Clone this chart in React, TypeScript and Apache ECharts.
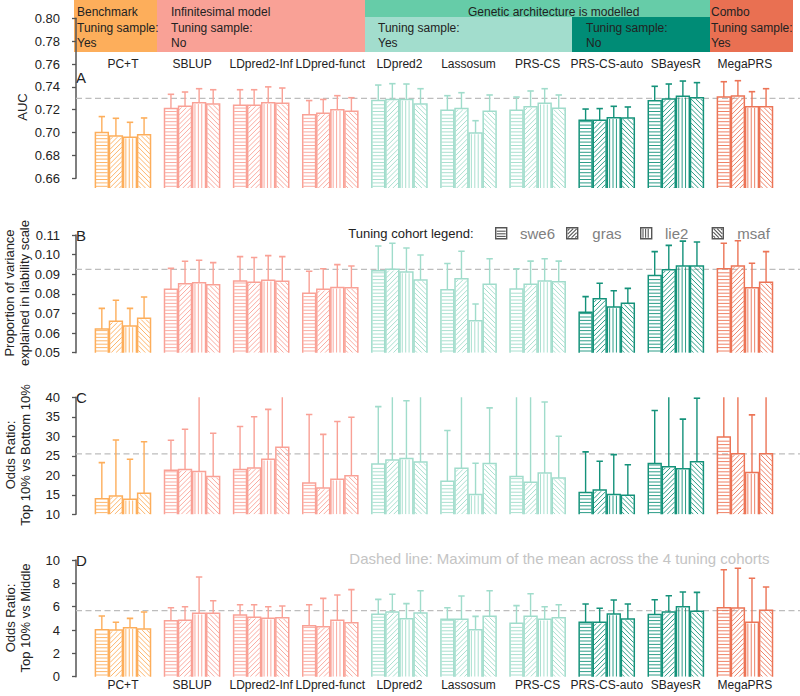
import React, { useEffect, useRef } from 'react';
import * as echarts from 'echarts';

// ---------------- DATA ----------------
const methods = ['PC+T', 'SBLUP', 'LDpred2-Inf', 'LDpred-funct', 'LDpred2', 'Lassosum', 'PRS-CS', 'PRS-CS-auto', 'SBayesR', 'MegaPRS'];
const cohorts = ['swe6', 'gras', 'lie2', 'msaf'];

// rows = methods, cols = cohorts (swe6, gras, lie2, msaf)
const aucMean = [
  [0.700, 0.697, 0.696, 0.698],
  [0.721, 0.723, 0.726, 0.725],
  [0.724, 0.724, 0.726, 0.7256],
  [0.7157, 0.717, 0.720, 0.7186],
  [0.728, 0.729, 0.729, 0.725],
  [0.7195, 0.721, 0.6996, 0.7186],
  [0.7195, 0.7227, 0.7256, 0.7212],
  [0.7107, 0.7107, 0.713, 0.7128],
  [0.7279, 0.7294, 0.7317, 0.7305],
  [0.7311, 0.732, 0.7227, 0.7227],
];
const aucUpper = [
  [0.714, 0.7125, 0.709, 0.7128],
  [0.7335, 0.7355, 0.7384, 0.7375],
  [0.7375, 0.7375, 0.740, 0.739],
  [0.728, 0.729, 0.7323, 0.7305],
  [0.7416, 0.7428, 0.7425, 0.7384],
  [0.7323, 0.7349, 0.7104, 0.7329],
  [0.7311, 0.7364, 0.7384, 0.7329],
  [0.7206, 0.721, 0.723, 0.7224],
  [0.7405, 0.7425, 0.7451, 0.7437],
  [0.7445, 0.7454, 0.7358, 0.7384],
];
const h2Mean = [
  [0.0621, 0.066, 0.0636, 0.0675],
  [0.0823, 0.0852, 0.0857, 0.0847],
  [0.0865, 0.0859, 0.0869, 0.0864],
  [0.0803, 0.0823, 0.0833, 0.0831],
  [0.0918, 0.0925, 0.0911, 0.0871],
  [0.0821, 0.0877, 0.0663, 0.0849],
  [0.0825, 0.0849, 0.0866, 0.0862],
  [0.0706, 0.0775, 0.0733, 0.0752],
  [0.0893, 0.0923, 0.0942, 0.0942],
  [0.0928, 0.0942, 0.0831, 0.0859],
];
const h2Upper = [
  [0.0726, 0.0767, 0.0726, 0.0784],
  [0.093, 0.0966, 0.0971, 0.0959],
  [0.099, 0.0985, 0.0995, 0.099],
  [0.0915, 0.0928, 0.0949, 0.0942],
  [0.1044, 0.1058, 0.1034, 0.0998],
  [0.0955, 0.1017, 0.0748, 0.0979],
  [0.0928, 0.0967, 0.0979, 0.0967],
  [0.0786, 0.0854, 0.0816, 0.0828],
  [0.1015, 0.1047, 0.1069, 0.1064],
  [0.1058, 0.1071, 0.0956, 0.1015],
];
const orBottomMean = [
  [14.0, 14.7, 13.85, 15.4],
  [21.3, 21.5, 21.0, 19.7],
  [21.5, 21.9, 24.1, 27.2],
  [18.0, 16.75, 19.0, 19.9],
  [22.9, 23.9, 24.3, 23.4],
  [18.5, 21.8, 15.1, 23.0],
  [19.7, 18.2, 20.6, 19.3],
  [15.6, 16.2, 15.1, 14.9],
  [23.0, 22.2, 21.7, 23.5],
  [29.8, 25.5, 20.7, 25.5],
];
const orBottomUpper = [
  [23.25, 29.06, 24.1, 28.6],
  [29.0, 31.8, 45, 30.8],
  [32.5, 35.0, 36.9, 45],
  [35.6, 30.5, 33.8, 34.9],
  [37.6, 45, 39.1, 45],
  [31.5, 45, 23.1, 37.3],
  [45, 45, 38.8, 30.0],
  [26.0, 23.6, 25.3, 22.7],
  [36.6, 45, 34.4, 39.8],
  [45, 45, 35.5, 45],
];
const orMiddleMean = [
  [4.03, 4.0, 4.2, 4.09],
  [4.8, 4.83, 5.43, 5.43],
  [5.29, 5.09, 5.0, 5.06],
  [4.37, 4.29, 4.83, 4.63],
  [5.35, 5.54, 4.97, 5.46],
  [4.92, 4.92, 4.03, 5.17],
  [4.57, 5.17, 4.92, 5.06],
  [4.66, 4.66, 5.37, 4.94],
  [5.34, 5.54, 6.0, 5.6],
  [5.91, 5.89, 4.66, 5.69],
];
const orMiddleUpper = [
  [5.2, 4.66, 5.0, 5.54],
  [5.91, 6.0, 8.54, 6.51],
  [6.17, 6.17, 6.0, 6.06],
  [6.17, 6.71, 7.0, 7.46],
  [6.63, 7.06, 6.26, 7.37],
  [5.91, 6.91, 5.17, 7.37],
  [6.09, 7.11, 6.0, 6.17],
  [6.23, 5.86, 6.57, 6.23],
  [6.6, 6.94, 7.26, 7.23],
  [9.17, 9.29, 8.43, 7.69],
];
// dashed reference lines (max of mean across the 4 tuning cohorts)
const dashedValues = [0.73, 0.0925, 25.5, 5.66];

const aucTicks = [0.66, 0.68, 0.70, 0.72, 0.74, 0.76, 0.78, 0.80];
const h2Ticks = [0.05, 0.06, 0.07, 0.08, 0.09, 0.10, 0.11];
const orBottomTicks = [10, 15, 20, 25, 30, 35, 40];
const orMiddleTicks = [0, 2, 4, 6, 8, 10];

// ---------------- STYLE / LAYOUT ----------------
const FONT = "'Liberation Sans', Arial, Helvetica, sans-serif";
const C_ORANGE = '#FDAE5B';
const C_SALMON = '#F9A196';
const C_LGREEN = '#A0DCCB';
const C_DGREEN = '#14927A';
const C_COMBO = '#EC7456';
const methodColors = [C_ORANGE, C_SALMON, C_SALMON, C_SALMON, C_LGREEN, C_LGREEN, C_LGREEN, C_DGREEN, C_DGREEN, C_COMBO];

const GRID_LEFT = 88.4;
const GRID_RIGHT = 20.5;

const panels = [
  { key: 'A', mean: aucMean, upper: aucUpper, ticks: aucTicks, digits: 2, pxMax: 18.3, pxMin: 178.3, barsTop: 72, barsBottom: 188,
    letterY: 77, title: 'AUC', titleX: 22, titleY: 107 },
  { key: 'B', mean: h2Mean, upper: h2Upper, ticks: h2Ticks, digits: 2, pxMax: 235, pxMin: 352.7, barsTop: 235, barsBottom: 352.7,
    letterY: 235, title: 'Proportion of variance\nexplained in liability scale', titleX: 17, titleY: 293 },
  { key: 'C', mean: orBottomMean, upper: orBottomUpper, ticks: orBottomTicks, digits: 0, pxMax: 397.3, pxMin: 514.3, barsTop: 397.3, barsBottom: 514.3,
    letterY: 397, title: 'Odds Ratio:\nTop 10% vs Bottom 10%', titleX: 18, titleY: 455 },
  { key: 'D', mean: orMiddleMean, upper: orMiddleUpper, ticks: orMiddleTicks, digits: 0, pxMax: 560, pxMin: 676.7, barsTop: 560, barsBottom: 676.7,
    letterY: 560, title: 'Odds Ratio:\nTop 10% vs Middle', titleX: 18, titleY: 618 },
];

function valAt(p: any, px: number) {
  const mn = p.ticks[0];
  const mx = p.ticks[p.ticks.length - 1];
  return mx - ((px - p.pxMax) / (p.pxMin - p.pxMax)) * (mx - mn);
}

// hatch segments inside a rect; kind 0 horizontal, 1 '/', 2 vertical, 3 '\'
function hatch(x0: number, y0: number, w: number, h: number, kind: number, step: number) {
  const segs: number[][] = [];
  const x1 = x0 + w;
  const y1 = y0 + h;
  if (w <= 0 || h <= 0) return segs;
  if (kind === 0) {
    for (let y = y1 - step / 2; y > y0; y -= step) segs.push([x0, y, x1, y]);
  } else if (kind === 2) {
    for (let x = x0 + step / 2; x < x1; x += step) segs.push([x, y0, x, y1]);
  } else {
    const d = step * Math.SQRT2;
    if (kind === 1) {
      for (let c = x0 + y0 + d / 2; c < x1 + y1; c += d) {
        const xa = Math.max(x0, c - y1);
        const xb = Math.min(x1, c - y0);
        if (xb > xa) segs.push([xa, c - xa, xb, c - xb]);
      }
    } else {
      for (let c = x0 - y1 + d / 2; c < x1 - y0; c += d) {
        const xa = Math.max(x0, c + y0);
        const xb = Math.min(x1, c + y1);
        if (xb > xa) segs.push([xa, xa - c, xb, xb - c]);
      }
    }
  }
  return segs;
}

function makeRenderItem(cohortIdx: number) {
  return (params: any, api: any) => {
    const mi = api.value(0);
    const top = api.coord([mi, api.value(1)]);
    const err = api.coord([mi, api.value(2)]);
    const band = api.size([1, 0])[0];
    const cs = params.coordSys;
    const bottom = cs.y + cs.height;
    const groupW = band * 0.815;
    const bw = groupW / 4;
    const x0 = top[0] - groupW / 2 + cohortIdx * bw;
    const color = methodColors[mi];
    const h = bottom - top[1];
    const segs = hatch(x0 + 1.2, top[1] + 1.2, bw - 2.4, h - 1.2, cohortIdx, 3.4);
    const children: any[] = segs.map((s) => ({
      type: 'line',
      shape: { x1: s[0], y1: s[1], x2: s[2], y2: s[3] },
      style: { stroke: color, lineWidth: 0.9 },
    }));
    const cx = x0 + bw / 2;
    children.push({
      type: 'line',
      shape: { x1: cx, y1: top[1], x2: cx, y2: err[1] },
      style: { stroke: color, lineWidth: 1.4 },
    });
    children.push({
      type: 'line',
      shape: { x1: cx - 3.2, y1: err[1], x2: cx + 3.2, y2: err[1] },
      style: { stroke: color, lineWidth: 1.6 },
    });
    children.push({
      type: 'rect',
      shape: { x: x0 + 0.6, y: top[1], width: bw - 1.2, height: h + 2 },
      style: { fill: 'none', stroke: color, lineWidth: 1.5 },
    });
    return { type: 'group', children };
  };
}

function buildOption() {
  const grids: any[] = [];
  const xAxes: any[] = [];
  const yAxes: any[] = [];
  const series: any[] = [];
  const graphics: any[] = [];

  // header boxes (drawn first, under everything)
  const boxes = [
    { x: 74, y: 0, w: 83, h: 52, color: C_ORANGE },
    { x: 157, y: 0, w: 208, h: 52, color: C_SALMON },
    { x: 365, y: 0, w: 345, h: 17, color: '#66CCA8' },
    { x: 365, y: 17, w: 207, h: 35, color: '#A2DDCD' },
    { x: 572, y: 17, w: 138, h: 35, color: '#008C76' },
    { x: 710, y: 0, w: 83, h: 52, color: '#E97052' },
  ];
  boxes.forEach((b) => graphics.push({ type: 'rect', shape: { x: b.x, y: b.y, width: b.w, height: b.h }, style: { fill: b.color }, silent: true }));
  const headerTexts = [
    { x: 77, y: 27.5, t: 'Benchmark\nTuning sample:\nYes' },
    { x: 171, y: 27.5, t: 'Infinitesimal model\nTuning sample:\nNo' },
    { x: 468, y: 12.3, t: 'Genetic architecture is modelled' },
    { x: 378, y: 35.5, t: 'Tuning sample:\nYes' },
    { x: 586, y: 35.5, t: 'Tuning sample:\nNo' },
    { x: 711, y: 27.5, t: 'Combo\nTuning sample:\nYes' },
  ];
  headerTexts.forEach((h) => graphics.push({ type: 'text', x: h.x, y: h.y, style: { text: h.t, fontSize: 12, lineHeight: 15.2, fill: '#222', fontFamily: FONT, align: 'left', verticalAlign: 'middle' } }));

  panels.forEach((p, k) => {
    const gBars = 2 * k;
    const gAxis = 2 * k + 1;
    const mn = p.ticks[0];
    const mx = p.ticks[p.ticks.length - 1];
    // bars grid
    grids.push({ left: GRID_LEFT, right: GRID_RIGHT, top: p.barsTop, height: p.barsBottom - p.barsTop, outerBoundsMode: 'none', containLabel: false });
    xAxes.push({
      gridIndex: gBars, type: 'category', data: methods,
      position: p.key === 'A' ? 'top' : 'bottom',
      axisLine: { show: false }, axisTick: { show: false }, splitLine: { show: false },
      axisLabel: { show: p.key === 'A' || p.key === 'D', interval: 0, hideOverlap: false, fontSize: 12, color: '#222', fontFamily: FONT, margin: 2 },
    });
    yAxes.push({ gridIndex: gBars, type: 'value', min: valAt(p, p.barsBottom), max: valAt(p, p.barsTop), show: false, splitLine: { show: false } });
    // axis grid
    grids.push({ left: 76, right: 0, top: p.pxMax, height: p.pxMin - p.pxMax, outerBoundsMode: 'none', containLabel: false });
    xAxes.push({ gridIndex: gAxis, type: 'value', min: 0, max: 1, show: false });
    yAxes.push({
      gridIndex: gAxis, type: 'value', min: mn, max: mx, interval: p.ticks[1] - p.ticks[0], offset: 9,
      axisLine: { show: true, lineStyle: { color: '#555', width: 1.5 } },
      axisTick: { show: true, length: 4, lineStyle: { color: '#555', width: 1.3 } },
      splitLine: { show: false },
      axisLabel: { fontSize: 13, color: '#222', fontFamily: FONT, margin: 7, formatter: (v: number) => v.toFixed(p.digits) },
    });
    series.push({
      type: 'line', xAxisIndex: gAxis, yAxisIndex: gAxis, silent: true, symbol: 'none', z: 1,
      data: [[0, dashedValues[k]], [1, dashedValues[k]]],
      lineStyle: { color: '#BDBDBD', width: 1.3, type: [6, 3.5] },
    });
    cohorts.forEach((c, ci) => {
      series.push({
        type: 'custom', name: c, xAxisIndex: gBars, yAxisIndex: gBars, clip: true, silent: true, z: 2,
        data: methods.map((_, i) => [i, p.mean[i][ci], p.upper[i][ci]]),
        encode: { x: 0, y: [1, 2] },
        renderItem: makeRenderItem(ci),
      });
    });
    // panel letter
    graphics.push({ type: 'text', x: 76, y: p.letterY, style: { text: p.key, fontSize: 15, fill: '#222', fontFamily: FONT, align: 'left', verticalAlign: 'middle' } });
    // y title
    graphics.push({ type: 'text', x: p.titleX, y: p.titleY, rotation: Math.PI / 2, style: { text: p.title, fontSize: 13, lineHeight: 15, fill: '#222', fontFamily: FONT, align: 'center', verticalAlign: 'middle' } });
  });

  // legend
  graphics.push({ type: 'text', x: 348.3, y: 233.3, style: { text: 'Tuning cohort legend:', fontSize: 13, fill: '#222', fontFamily: FONT, align: 'left', verticalAlign: 'middle' } });
  const legendItems = [
    { ix: 495.7, tx: 520 }, { ix: 566.7, tx: 592.3 }, { ix: 640.7, tx: 665 }, { ix: 712.3, tx: 737.3 },
  ];
  legendItems.forEach((li, ci) => {
    const segs = hatch(li.ix + 1, 228.7, 9, 9, ci, 2.6);
    segs.forEach((s) => graphics.push({ type: 'line', shape: { x1: s[0], y1: s[1], x2: s[2], y2: s[3] }, style: { stroke: '#555', lineWidth: 1.1 } }));
    graphics.push({ type: 'rect', shape: { x: li.ix, y: 227.7, width: 11, height: 11 }, style: { fill: 'none', stroke: '#555', lineWidth: 1.4 } });
    graphics.push({ type: 'text', x: li.tx, y: 233.3, style: { text: cohorts[ci], fontSize: 15, fill: '#808080', fontFamily: FONT, align: 'left', verticalAlign: 'middle' } });
  });

  // footnote
  graphics.push({ type: 'text', x: 349.3, y: 558.3, style: { text: 'Dashed line: Maximum of the mean across the 4 tuning cohorts', fontSize: 15, fill: '#C4C4C4', fontFamily: FONT, align: 'left', verticalAlign: 'middle' } });

  return {
    animation: false,
    backgroundColor: '#ffffff',
    textStyle: { fontFamily: FONT },
    grid: grids,
    xAxis: xAxes,
    yAxis: yAxes,
    series,
    graphic: { elements: graphics },
  };
}

export default function App() {
  const ref = useRef<HTMLDivElement>(null);
  useEffect(() => {
    if (!ref.current) return;
    const chart = echarts.init(ref.current, undefined, { renderer: 'svg' });
    chart.setOption(buildOption() as any);
    return () => chart.dispose();
  }, []);
  return <div ref={ref} style={{ position: 'absolute', left: 0, top: 0, width: 800, height: 696, background: '#fff' }} />;
}
